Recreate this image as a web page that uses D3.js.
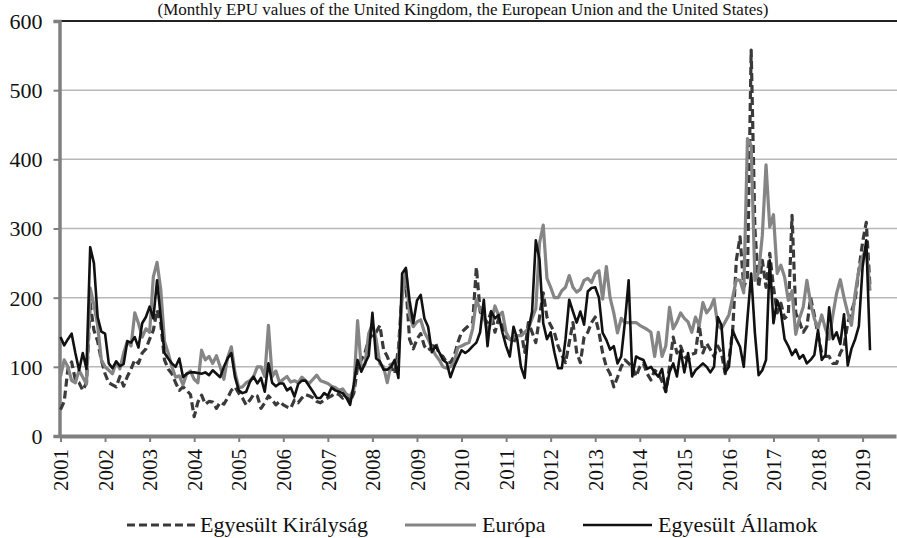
<!DOCTYPE html>
<html lang="hu">
<head>
<meta charset="UTF-8">
<title>EPU</title>
<script src="https://d3js.org/d3.v7.min.js"></script>
<style>
  body { margin: 0; background: #fff; }
  svg { display: block; }
  svg text { font-family: "Liberation Serif", "Times New Roman", serif; }
</style>
</head>
<body>
<svg width="897" height="538"></svg>
<script>
// monthly values, Jan 2001 - Mar 2019
const years = d3.range(2001, 2020);
const yTicks = [0, 100, 200, 300, 400, 500, 600];

const ukEPU = [
  38,50,97,107,81,77,66,77,192,153,137,110,
  90,77,74,71,86,72,86,97,110,105,120,126,
  140,153,182,163,110,97,90,77,66,71,66,60,
  28,49,59,46,50,49,40,49,46,55,66,71,
  62,55,45,52,60,58,40,48,58,52,45,50,
  45,42,40,52,48,55,60,58,55,50,48,52,
  55,58,62,60,55,60,50,62,100,110,120,140,
  146,150,160,125,115,100,90,126,207,220,140,126,
  140,148,130,124,128,135,118,115,106,106,115,135,
  150,155,160,164,244,180,170,164,180,150,170,160,
  143,140,135,145,153,121,164,150,135,172,207,172,
  160,150,130,117,106,135,164,121,106,143,150,164,
  172,150,120,100,90,71,85,100,110,105,100,86,
  100,105,90,81,95,90,79,64,100,143,120,130,
  115,110,118,120,161,120,134,125,115,130,120,90,
  110,151,254,288,215,230,558,300,215,254,215,264,
  215,178,192,170,175,319,178,165,150,158,200,175,
  146,120,115,115,105,105,120,130,163,180,197,240,
  280,309,215
];

const euEPU = [
  86,110,100,80,77,95,85,75,214,190,160,110,
  100,95,90,107,97,120,137,130,178,163,143,155,
  150,230,251,212,137,120,100,85,87,74,90,94,
  82,77,124,110,115,105,116,100,82,113,129,92,
  70,71,77,80,86,100,100,86,160,86,94,77,
  82,86,78,80,77,85,80,76,82,88,80,78,
  76,72,70,66,68,60,58,68,167,98,104,148,
  162,140,104,100,77,104,104,110,200,240,175,158,
  165,168,150,140,127,117,110,100,98,100,106,128,
  130,133,135,155,197,183,174,150,165,188,174,179,
  150,140,143,145,145,150,155,170,184,279,305,228,
  215,200,200,210,215,232,215,208,212,225,228,222,
  235,239,198,245,200,178,149,170,164,164,164,164,
  160,157,154,150,115,150,115,130,186,155,165,178,
  170,165,150,172,160,193,178,185,198,160,155,165,
  175,200,226,225,207,430,420,225,236,290,392,302,
  320,235,247,230,196,210,147,170,186,225,192,170,
  155,175,155,140,175,206,226,200,178,160,206,240,
  260,270,210
];

const usEPU = [
  143,131,140,148,120,95,120,97,273,250,172,151,
  148,105,98,108,101,104,137,135,143,128,163,172,
  187,170,225,172,120,112,105,100,112,85,90,92,
  92,91,90,92,88,95,90,85,100,112,120,85,
  66,62,64,78,86,76,84,64,105,77,72,76,
  76,66,70,57,75,80,80,72,64,55,55,62,
  58,70,66,64,62,55,45,75,110,93,105,116,
  178,112,108,96,96,100,110,84,235,243,196,163,
  196,204,170,158,121,130,121,110,106,85,100,112,
  124,120,124,130,135,150,197,130,180,170,175,150,
  130,115,158,140,100,84,153,180,283,255,163,140,
  150,121,98,98,140,197,180,164,180,161,209,214,
  215,200,149,139,125,130,105,115,165,225,86,115,
  112,110,97,100,92,86,97,64,92,105,86,124,
  92,120,86,95,100,105,100,92,100,172,160,92,
  100,153,140,129,100,170,235,149,88,95,110,254,
  163,196,180,140,130,117,125,112,117,105,110,117,
  153,110,117,186,140,150,133,176,102,126,140,159,
  244,283,124
];

const seriesNames = ["Egyesült Királyság", "Európa", "Egyesült Államok"];
const titleText = "(Monthly EPU values of the United Kingdom, the European Union and the United States)";

const svg = d3.select("svg");
const x = d3.scaleLinear().domain([0, 225]).range([60.5, 896]);
const y = d3.scaleLinear().domain([0, 600]).range([436, 21]);

// title, kept just above the top gridline
svg.append("text")
  .attr("x", 463).attr("y", 15)
  .attr("text-anchor", "middle")
  .attr("font-size", 17)
  .attr("fill", "#111")
  .text(titleText);

// gridlines
svg.append("g").selectAll("line")
  .data(yTicks.filter(d => d > 0))
  .join("line")
  .attr("x1", 60).attr("x2", 897)
  .attr("y1", d => y(d)).attr("y2", d => y(d))
  .attr("stroke", d => d === 600 ? "#222" : "#b8b8b8")
  .attr("stroke-width", d => d === 600 ? 2 : 1.5);

// y axis
const yAxis = svg.append("g")
  .attr("transform", "translate(59.5,0)")
  .call(d3.axisLeft(y).tickValues(yTicks).tickSize(6).tickPadding(11));
yAxis.attr("font-family", null);
yAxis.select(".domain").attr("stroke", "#808080").attr("stroke-width", 3.5);
yAxis.selectAll(".tick line").attr("stroke", "#808080").attr("stroke-width", 2);
yAxis.selectAll(".tick text")
  .attr("font-size", 22)
  .attr("fill", "#111").attr("dy", "0.34em");

// x axis
const xAxis = svg.append("g")
  .attr("transform", "translate(0,436)")
  .call(d3.axisBottom(x)
    .tickValues(years.map((d, i) => i * 12))
    .tickFormat((d, i) => years[i])
    .tickSize(6).tickSizeOuter(0));
xAxis.attr("font-family", null);
xAxis.select(".domain").attr("stroke", "#808080").attr("stroke-width", 4);
xAxis.selectAll(".tick line").attr("stroke", "#808080").attr("stroke-width", 2);
xAxis.selectAll(".tick text")
  .attr("font-size", 21)
  .attr("fill", "#111")
  .attr("transform", "rotate(-90)")
  .attr("text-anchor", "end")
  .attr("x", -13).attr("y", 0).attr("dy", "0.34em");

const line = d3.line()
  .x((d, i) => x(i))
  .y(d => y(d));

const styles = [
  { data: ukEPU, color: "#3a3a3a", width: 3.2, dash: "8,4" },
  { data: euEPU, color: "#858585", width: 3.2, dash: null },
  { data: usEPU, color: "#111111", width: 2.6, dash: null }
];

styles.forEach(s => {
  svg.append("path")
    .datum(s.data)
    .attr("fill", "none")
    .attr("stroke", s.color)
    .attr("stroke-width", s.width)
    .attr("stroke-linejoin", "round")
    .attr("stroke-dasharray", s.dash)
    .attr("d", line);
});

// legend
const legendPos = [
  { x1: 127, x2: 197, tx: 200 },
  { x1: 405, x2: 476, tx: 482 },
  { x1: 583, x2: 652, tx: 658 }
];
const legend = svg.append("g");
styles.forEach((s, i) => {
  const p = legendPos[i];
  legend.append("line")
    .attr("x1", p.x1).attr("x2", p.x2)
    .attr("y1", 525).attr("y2", 525)
    .attr("stroke", s.color)
    .attr("stroke-width", s.width)
    .attr("stroke-dasharray", s.dash);
  legend.append("text")
    .attr("x", p.tx).attr("y", 532)
    .attr("font-size", 22)
    .attr("fill", "#111")
    .text(seriesNames[i]);
});
</script>
</body>
</html>
